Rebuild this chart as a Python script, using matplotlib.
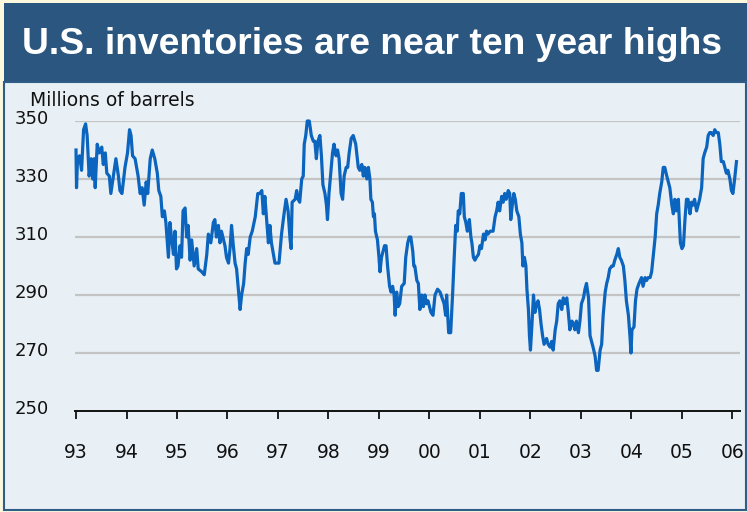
import matplotlib
matplotlib.use("Agg")
import matplotlib.pyplot as plt
import matplotlib.transforms as mtransforms
from matplotlib.patches import Rectangle

# weekly-ish US crude inventories (decimal year, millions of barrels)
year = [
    1993.00, 1993.01, 1993.03, 1993.07, 1993.11, 1993.15, 1993.19, 1993.22, 1993.26, 1993.30,
    1993.33, 1993.36, 1993.38, 1993.42, 1993.46, 1993.51, 1993.54, 1993.58, 1993.61, 1993.66,
    1993.69, 1993.74, 1993.79, 1993.84, 1993.87, 1993.91, 1993.97, 1994.02, 1994.06, 1994.09,
    1994.12, 1994.17, 1994.23, 1994.27, 1994.31, 1994.35, 1994.39, 1994.42, 1994.47, 1994.51,
    1994.56, 1994.61, 1994.64, 1994.68, 1994.71, 1994.75, 1994.78,
    1994.83, 1994.86, 1994.89, 1994.93, 1994.96, 1994.99, 1995.02, 1995.06, 1995.09, 1995.12,
    1995.16, 1995.19, 1995.22, 1995.26, 1995.29, 1995.34, 1995.39, 1995.42, 1995.49, 1995.54,
    1995.59, 1995.62, 1995.67, 1995.72, 1995.75, 1995.78, 1995.82, 1995.85, 1995.88, 1995.95,
    1995.98, 1996.02, 1996.05, 1996.08, 1996.11, 1996.15, 1996.18, 1996.22, 1996.25, 1996.28,
    1996.32, 1996.35, 1996.38, 1996.41, 1996.45, 1996.49, 1996.55, 1996.60,
    1996.64, 1996.68, 1996.71, 1996.74, 1996.78, 1996.81, 1996.84, 1996.87, 1996.91, 1996.94,
    1996.98, 1997.02, 1997.07, 1997.12, 1997.16, 1997.20, 1997.24, 1997.26, 1997.28, 1997.34,
    1997.37, 1997.40, 1997.43, 1997.47, 1997.50, 1997.52, 1997.55, 1997.58, 1997.62, 1997.66,
    1997.70, 1997.73, 1997.76, 1997.79, 1997.83, 1997.86, 1997.89, 1997.93, 1997.96, 1997.98,
    1998.01, 1998.05, 1998.08, 1998.11, 1998.15, 1998.18, 1998.21, 1998.25, 1998.28, 1998.31,
    1998.35, 1998.38, 1998.41, 1998.45, 1998.49, 1998.54,
    1998.59, 1998.62, 1998.66, 1998.69, 1998.72, 1998.76, 1998.79, 1998.82, 1998.84, 1998.87,
    1998.89, 1998.91, 1998.93, 1998.97, 1999.00, 1999.02, 1999.05, 1999.11, 1999.14, 1999.17,
    1999.21, 1999.24, 1999.27, 1999.30, 1999.32, 1999.35, 1999.38, 1999.41, 1999.45, 1999.50,
    1999.53, 1999.57, 1999.60, 1999.63, 1999.67, 1999.69, 1999.71, 1999.75, 1999.78, 1999.81,
    1999.85, 1999.88, 1999.91, 1999.94, 1999.97, 2000.03, 2000.07, 2000.11, 2000.16, 2000.21,
    2000.25, 2000.29, 2000.32, 2000.34, 2000.38, 2000.42,
    2000.46, 2000.49, 2000.52, 2000.55, 2000.57, 2000.60, 2000.63, 2000.67, 2000.69, 2000.72,
    2000.75, 2000.79, 2000.82, 2000.84, 2000.87, 2000.90, 2000.93, 2000.97, 2001.00, 2001.03,
    2001.07, 2001.10, 2001.13, 2001.16, 2001.20, 2001.23, 2001.26, 2001.30, 2001.33, 2001.36,
    2001.39, 2001.43, 2001.46, 2001.49, 2001.52, 2001.56, 2001.59, 2001.61, 2001.64, 2001.67,
    2001.70, 2001.73, 2001.77, 2001.80, 2001.83, 2001.85, 2001.88, 2001.91, 2001.93, 2001.96,
    2001.98, 2002.00, 2002.03, 2002.06, 2002.09, 2002.11, 2002.15, 2002.18, 2002.21, 2002.24,
    2002.27,
    2002.32, 2002.35, 2002.39, 2002.42, 2002.45, 2002.49, 2002.52, 2002.55, 2002.58, 2002.62,
    2002.65, 2002.68, 2002.72, 2002.75, 2002.78, 2002.82, 2002.85, 2002.88, 2002.91, 2002.95,
    2002.98, 2003.01, 2003.05, 2003.08, 2003.11, 2003.15, 2003.18, 2003.21, 2003.24, 2003.28,
    2003.31, 2003.34, 2003.38, 2003.41, 2003.44, 2003.48, 2003.51, 2003.54, 2003.57, 2003.61,
    2003.64, 2003.67, 2003.71, 2003.74, 2003.77, 2003.80, 2003.84, 2003.87, 2003.90, 2003.94,
    2003.97, 2003.99, 2004.01, 2004.05, 2004.08, 2004.11, 2004.15,
    2004.20, 2004.23, 2004.27, 2004.30, 2004.33, 2004.37, 2004.40, 2004.43, 2004.47, 2004.50,
    2004.53, 2004.56, 2004.60, 2004.63, 2004.66, 2004.70, 2004.73, 2004.76, 2004.80, 2004.83,
    2004.86, 2004.89, 2004.93, 2004.95, 2004.97, 2005.00, 2005.03, 2005.06, 2005.09, 2005.12,
    2005.16, 2005.19, 2005.22, 2005.25, 2005.29, 2005.32, 2005.35, 2005.39, 2005.42, 2005.45,
    2005.49, 2005.52, 2005.55, 2005.58, 2005.62, 2005.65, 2005.68, 2005.72, 2005.75, 2005.78,
    2005.82, 2005.85, 2005.88, 2005.91, 2005.95, 2005.98, 2006.01, 2006.05, 2006.08,
]
stocks = [
    340, 327, 337, 338, 333, 347, 349, 345, 331, 337,
    330, 337, 327, 342, 339, 341, 335, 339, 332, 331,
    325, 331, 337, 331, 326, 325, 334, 339, 347, 345,
    338, 337, 331, 325, 327, 321, 329, 325, 337, 340,
    337, 332, 326, 324, 317, 319, 315,
    303, 315, 310, 304, 312, 299, 300, 307, 303, 319,
    320, 310, 314, 302, 309, 300, 306, 299, 298, 297,
    304, 311, 308, 315, 316, 310, 314, 308, 312, 307,
    303, 301, 306, 314, 308, 301, 299, 291, 285, 290,
    294, 301, 306, 304, 310, 312, 317, 325,
    325, 326, 318, 324, 315, 308, 314, 308, 304, 301,
    301, 301, 311, 318, 323, 319, 309, 306, 322, 323,
    326, 323, 322, 330, 331, 342, 345, 350, 350, 345,
    343, 343, 337, 343, 345, 338, 328, 325, 321, 316,
    325, 333, 339, 342, 338, 340, 337, 325, 323, 331,
    334, 334, 339, 344, 345, 342,
    334, 333, 335, 331, 334, 330, 334, 330, 323, 322,
    317, 318, 312, 309, 303, 298, 303, 307, 307, 300,
    293, 291, 293, 290, 283, 291, 286, 287, 293, 294,
    303, 308, 310, 310, 305, 300, 300, 295, 294, 285,
    290, 286, 290, 287, 288, 284, 283, 290, 292, 291,
    289, 287, 283, 290, 277, 277,
    291, 303, 314, 312, 319, 318, 325, 325, 317, 315,
    312, 316, 310, 308, 303, 302, 303, 304, 307, 306,
    311, 309, 312, 311, 312, 312, 312, 317, 319, 322,
    319, 324, 322, 325, 323, 326, 325, 316, 321, 325,
    323, 319, 317, 311, 308, 300, 303, 300, 292, 285,
    276, 271, 280, 290, 284, 286, 288, 285, 280, 276,
    273,
    275, 273, 272, 274, 271, 278, 281, 287, 288, 285,
    289, 287, 289, 284, 278, 281, 280, 278, 281, 277,
    281, 287, 289, 292, 294, 289, 276, 274, 272, 269,
    264, 264, 271, 273, 283, 291, 294, 296, 299, 300,
    300, 302, 304, 306, 303, 302, 300, 295, 288, 283,
    276, 270, 278, 279, 288, 292, 294,
    296, 293, 296, 295, 296, 296, 298, 303, 310, 318,
    321, 325, 329, 334, 334, 331, 329, 327, 321, 318,
    323, 319, 323, 315, 308, 306, 307, 316, 323, 323,
    318, 322, 321, 323, 319, 321, 323, 327, 337, 339,
    341, 345, 346, 346, 345, 347, 346, 346, 342, 336,
    336, 334, 332, 333, 330, 326, 325, 331, 336,
]
year_ticks = list(range(1993, 2007))
year_labels = ["93", "94", "95", "96", "97", "98", "99", "00", "01", "02", "03", "04", "05", "06"]
y_ticks = [250, 270, 290, 310, 330, 350]

W, H = 747, 512
narrow = ["Liberation Sans Narrow", "DejaVu Sans"]

fig = plt.figure(figsize=(W / 100, H / 100), dpi=100)
fig.patch.set_facecolor("#fbf8de")

# title band and chart panel, in pixel coords converted to figure fraction
def px_rect(x0, y0, x1, y1, **kw):
    r = Rectangle((x0 / W, 1 - y1 / H), (x1 - x0) / W, (y1 - y0) / H,
                  transform=fig.transFigure, zorder=-10, **kw)
    fig.patches.append(r)

px_rect(4, 3, 747, 82, facecolor="#2a5680", edgecolor="none")
px_rect(4, 82, 746, 510, facecolor="#e9f0f5", edgecolor="#2f5d88", linewidth=1.5)

fig.text(372 / W, 1 - 44 / H, "U.S. inventories are near ten year highs",
         color="white", fontsize=26.8, fontweight="bold", family="Liberation Sans",
         ha="center", va="center")
fig.text(30 / W, 1 - 100 / H, "Millions of barrels", fontsize=13.5,
         family=narrow, ha="left", va="center", color="#111111")

ax = fig.add_axes([75 / W, 1 - 411 / H, (740 - 75) / W, (411 - 121) / H])
ax.set_facecolor("none")
ax.plot(year, stocks, color="#0b64bd", linewidth=2.3, solid_joinstyle="round",
        clip_on=False, zorder=3)

ax.set_xlim(1992.98, 2006.15)
ax.set_ylim(250, 350)
ax.set_yticks(y_ticks)
ax.set_xticks(year_ticks)
ax.set_xticklabels(year_labels)

for v in y_ticks[1:]:
    ax.axhline(v, color="#c4c4c4", linewidth=1.6, zorder=1)

for s in ["top", "right", "left"]:
    ax.spines[s].set_visible(False)
ax.spines["bottom"].set_linewidth(1.4)
ax.spines["bottom"].set_color("#111111")

ax.tick_params(axis="x", direction="out", length=6, width=1.3, pad=17,
               labelsize=13.5, color="#111111")
ax.tick_params(axis="y", length=0, pad=19, labelsize=13)
for lab in ax.get_xticklabels() + ax.get_yticklabels():
    lab.set_family(narrow)
    lab.set_color("#111111")
shift = mtransforms.ScaledTranslation(0, 4 / 100, fig.dpi_scale_trans)
for lab in ax.get_yticklabels():
    lab.set_transform(lab.get_transform() + shift)

fig.savefig("out.png", dpi=100, facecolor=fig.get_facecolor())
